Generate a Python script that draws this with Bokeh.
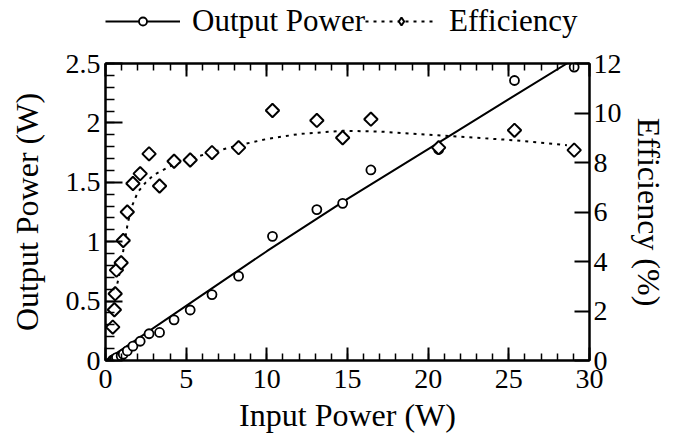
from bokeh.plotting import figure
from bokeh.layouts import column
from bokeh.models import (Range1d, LinearAxis, FixedTicker, Legend, LegendItem)
from bokeh.embed import file_html
from bokeh.resources import INLINE

# ---- data ----
input_power = [0.45, 0.55, 0.60, 0.68, 0.97, 1.10, 1.35, 1.70, 2.15, 2.70, 3.35,
               4.25, 5.25, 6.60, 8.25, 10.35, 13.10, 14.70, 16.45, 20.65, 25.35, 29.05]
output_power = [0.006, 0.011, 0.016, 0.025, 0.038, 0.053, 0.081, 0.121, 0.162, 0.225, 0.236,
                0.342, 0.425, 0.555, 0.710, 1.045, 1.270, 1.323, 1.604, 1.776, 2.357, 2.470]
efficiency = [1.35, 2.05, 2.70, 3.65, 3.95, 4.85, 6.00, 7.15, 7.55, 8.35, 7.05,
              8.05, 8.10, 8.40, 8.60, 10.10, 9.70, 9.00, 9.75, 8.60, 9.30, 8.50]

out_fit_x = [0, 5, 10, 15, 20, 25, 28.6]
out_fit_y = [0, 0.46, 0.92, 1.36, 1.78, 2.20, 2.50]

eff_fit_x = [0.45, 0.55, 0.70, 0.93, 1.14, 1.38, 1.65, 2.0, 2.5, 3.0, 4.0, 5.0, 6.5,
             8.3, 10.0, 12.0, 14.7, 17.0, 20.6, 25.3, 28.6]
eff_fit_y = [1.5, 2.2, 3.0, 3.7, 4.6, 5.55, 6.25, 6.8, 7.2, 7.5, 7.85, 8.1, 8.4,
             8.7, 8.95, 9.15, 9.28, 9.25, 9.1, 8.9, 8.7]

x_ticks = [0, 5, 10, 15, 20, 25, 30]
x_minor = list(range(0, 31))
y_ticks = [0, 0.5, 1, 1.5, 2, 2.5]
y_tick_labels = ["0", "0.5", "1", "1.5", "2", "2.5"]
y_minor = [i / 10 for i in range(26)]
eff_ticks = [0, 2, 4, 6, 8, 10, 12]

FONT = "Liberation Serif"
TICK_FS = "28px"
LAB_FS = "32px"
LEG_FS = "31px"

# ---------------- main chart ----------------
p = figure(width=676, height=392, x_range=Range1d(0, 30), y_range=Range1d(0, 2.5),
           output_backend="svg", toolbar_location=None,
           min_border_left=105, min_border_right=87, min_border_top=18, min_border_bottom=77)
p.extra_y_ranges = {"eff": Range1d(0, 12)}
p.xgrid.visible = False
p.ygrid.visible = False
p.outline_line_color = "black"
p.outline_line_width = 2
p.background_fill_color = "white"
p.border_fill_color = "white"


def style(ax, maj_in, min_in):
    ax.major_tick_in = maj_in
    ax.major_tick_out = 0
    ax.minor_tick_in = min_in
    ax.minor_tick_out = 0
    ax.axis_line_color = "black"
    ax.axis_line_width = 2
    ax.major_tick_line_color = "black"
    ax.major_tick_line_width = 2
    ax.minor_tick_line_color = "black"
    ax.minor_tick_line_width = 1.5
    ax.major_label_text_font = FONT
    ax.major_label_text_font_size = TICK_FS
    ax.major_label_text_color = "black"
    ax.axis_label_text_font = FONT
    ax.axis_label_text_font_size = LAB_FS
    ax.axis_label_text_font_style = "normal"
    ax.axis_label_text_color = "black"


xa = p.xaxis[0]
xa.ticker = FixedTicker(ticks=x_ticks, minor_ticks=x_minor)
xa.axis_label = "Input Power (W)"
style(xa, 13, 7)
xa.major_label_standoff = 9
xa.axis_label_standoff = 6

ya = p.yaxis[0]
ya.ticker = FixedTicker(ticks=y_ticks, minor_ticks=y_minor)
ya.major_label_overrides = {t: s for t, s in zip(y_ticks, y_tick_labels)}
ya.axis_label = "Output Power (W)"
style(ya, 17, 9)
ya.major_label_standoff = 5
ya.axis_label_standoff = 18

top = LinearAxis(ticker=FixedTicker(ticks=x_ticks, minor_ticks=x_minor))
style(top, 13, 7)
top.major_label_overrides = {t: "" for t in x_ticks}
top.major_label_text_font_size = "1px"
top.major_label_standoff = 0
p.add_layout(top, "above")

ra = LinearAxis(y_range_name="eff", ticker=FixedTicker(ticks=eff_ticks, minor_ticks=[]))
style(ra, 15, 0)
ra.axis_label = "Efficiency (%)"
ra.major_label_standoff = 4
ra.axis_label_standoff = 6
p.add_layout(ra, "right")

p.line(out_fit_x, out_fit_y, line_color="black", line_width=2)
p.scatter(input_power, output_power, marker="circle", size=9,
          fill_color="white", line_color="black", line_width=1.8)
p.line(eff_fit_x, eff_fit_y, y_range_name="eff", line_color="black",
       line_width=2, line_dash="3 5")
p.scatter(input_power, efficiency, y_range_name="eff", marker="square",
          angle=0.785398, size=9.5, fill_color="white", line_color="black",
          line_width=2)

# ---------------- legend strip above the chart ----------------
lg = figure(width=676, height=45, x_range=Range1d(-10, -9), y_range=Range1d(-10, -9),
            x_axis_location=None, y_axis_location=None, min_border=0,
            output_backend="svg", toolbar_location=None)
lg.xgrid.visible = False
lg.ygrid.visible = False
lg.outline_line_color = None
lg.background_fill_color = "white"
lg.border_fill_color = "white"

l_line = lg.line(out_fit_x, out_fit_y, line_color="black", line_width=2)
l_circ = lg.scatter(input_power, output_power, marker="circle", size=8,
                    fill_color="white", line_color="black", line_width=1.8)
l_eff = lg.line(eff_fit_x, eff_fit_y, line_color="black", line_width=2, line_dash="3 5")
l_diam = lg.scatter(input_power, efficiency, marker="diamond", size=12,
                    fill_color="white", line_color="black", line_width=2)

leg1 = Legend(items=[LegendItem(label="Output Power", renderers=[l_line, l_circ])],
              location=(0, 6), orientation="horizontal", glyph_width=75,
              glyph_height=20, label_standoff=12, padding=0, margin=0,
              border_line_alpha=0, background_fill_alpha=0,
              label_text_font=FONT, label_text_font_size=LEG_FS,
              label_text_color="black")
leg2 = Legend(items=[LegendItem(label="Efficiency", renderers=[l_eff, l_diam])],
              location=(260, 6), orientation="horizontal", glyph_width=72,
              glyph_height=20, label_standoff=12, padding=0, margin=0,
              border_line_alpha=0, background_fill_alpha=0,
              label_text_font=FONT, label_text_font_size=LEG_FS,
              label_text_color="black")
lg.add_layout(leg1)
lg.add_layout(leg2)

layout = column(lg, p)
open("out.html", "w").write(file_html(layout, INLINE))
